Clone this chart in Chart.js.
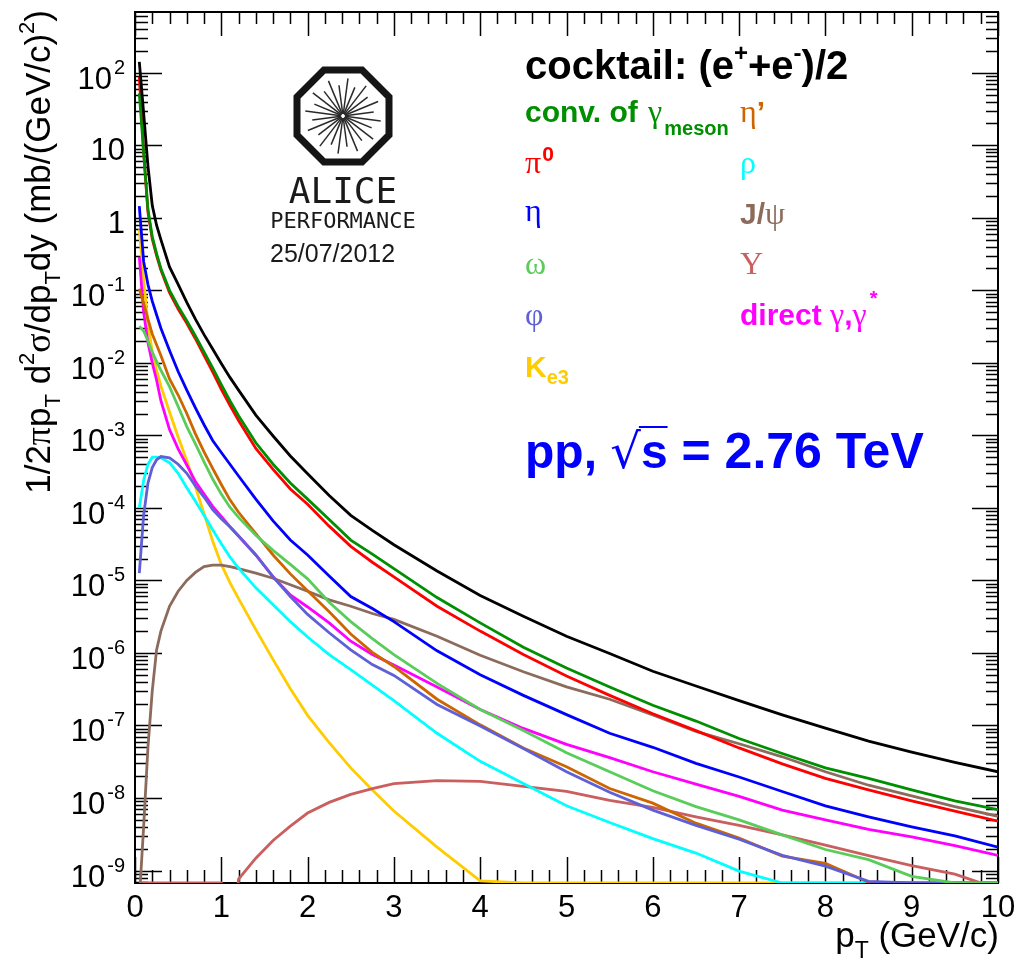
<!DOCTYPE html>
<html>
<head>
<meta charset="utf-8">
<title>cocktail pp 2.76 TeV</title>
<script src="https://cdn.jsdelivr.net/npm/chart.js@4.4.1/dist/chart.umd.min.js"></script>
<style>
  html, body { margin: 0; padding: 0; background: #fff; }
</style>
</head>
<body>
<canvas id="cocktail" width="1020" height="962"></canvas>
<script>
// pT bin centres (GeV/c)
const PT = [0.05, 0.1, 0.15, 0.2, 0.25, 0.3, 0.4, 0.5, 0.6, 0.7, 0.8, 0.9, 1.0, 1.1, 1.2,
            1.4, 1.6, 1.8, 2.0, 2.25, 2.5, 2.75, 3.0, 3.5, 4.0, 4.5, 5.0, 5.5, 6.0, 6.5,
            7.0, 7.5, 8.0, 8.5, 9.0, 9.5, 10.0];

// 1/2pi pT d2sigma/dpT dy  in mb/(GeV/c)^2, one list per source (0 = empty bin)
const SUM_EE = [141, 28, 5.2, 1.48, 0.79, 0.50, 0.21, 0.121, 0.068, 0.040, 0.0245, 0.0155, 0.0098, 0.0063, 0.0042,
  0.0019, 9.8e-4, 5.2e-4, 2.95e-4, 1.48e-4, 7.9e-5, 4.9e-5, 3.1e-5, 1.35e-5, 6.2e-6, 3.2e-6, 1.7e-6, 9.8e-7,
  5.6e-7, 3.5e-7, 2.2e-7, 1.4e-7, 9.2e-8, 6.1e-8, 4.3e-8, 3.1e-8, 2.3e-8];
const CONV_GAMMA = [52, 8.0, 1.3, 0.55, 0.32, 0.20, 0.100, 0.060, 0.038, 0.0234, 0.0141, 0.0085, 0.0050, 0.0030, 0.00186,
  7.9e-4, 4.0e-4, 2.2e-4, 1.32e-4, 6.9e-5, 3.6e-5, 2.3e-5, 1.45e-5, 5.8e-6, 2.6e-6, 1.2e-6, 6.2e-7, 3.4e-7,
  1.9e-7, 1.15e-7, 6.6e-8, 4.1e-8, 2.6e-8, 1.86e-8, 1.29e-8, 9.1e-9, 6.9e-9];
const PI0 = [88, 8.2, 1.2, 0.51, 0.30, 0.19, 0.093, 0.055, 0.035, 0.0215, 0.0127, 0.0075, 0.0043, 0.0026, 0.0016,
  6.6e-4, 3.4e-4, 1.82e-4, 1.12e-4, 5.6e-5, 2.95e-5, 1.78e-5, 1.12e-5, 4.4e-6, 2.0e-6, 9.5e-7, 4.8e-7, 2.6e-7,
  1.45e-7, 8.5e-8, 4.9e-8, 2.95e-8, 1.86e-8, 1.29e-8, 9.1e-9, 6.6e-9, 4.8e-9];
const ETA = [1.45, 0.25, 0.12, 0.071, 0.046, 0.030, 0.0148, 0.0076, 0.0042, 0.0024, 0.0014, 8.5e-4, 5.8e-4, 4.0e-4, 2.75e-4,
  1.32e-4, 6.6e-5, 3.6e-5, 2.24e-5, 1.15e-5, 6.0e-6, 4.1e-6, 2.7e-6, 1.07e-6, 5.0e-7, 2.6e-7, 1.41e-7, 7.8e-8,
  5.0e-8, 3.0e-8, 1.95e-8, 1.23e-8, 7.8e-9, 5.5e-9, 4.0e-9, 3.0e-9, 2.1e-9];
const OMEGA = [0.032, 0.0275, 0.020, 0.014, 0.0105, 0.0079, 0.0047, 0.0025, 0.00132, 7.6e-4, 4.3e-4, 2.5e-4, 1.55e-4, 1.02e-4, 7.4e-5,
  4.2e-5, 2.6e-5, 1.66e-5, 1.05e-5, 5.0e-6, 2.7e-6, 1.58e-6, 9.5e-7, 3.8e-7, 1.66e-7, 8.5e-8, 4.2e-8, 2.3e-8,
  1.26e-8, 7.6e-9, 5.0e-9, 3.1e-9, 1.95e-9, 1.41e-9, 8.3e-10, 0, 0];
const PHI = [1.26e-5, 7.9e-5, 2.2e-4, 3.6e-4, 4.6e-4, 5.1e-4, 4.9e-4, 4.0e-4, 3.0e-4, 2.0e-4, 1.41e-4, 9.5e-5, 7.1e-5, 5.5e-5, 4.1e-5,
  2.24e-5, 1.12e-5, 6.0e-6, 3.4e-6, 1.9e-6, 1.10e-6, 6.9e-7, 4.9e-7, 1.95e-7, 9.8e-8, 4.8e-8, 2.3e-8, 1.2e-8,
  6.8e-9, 4.2e-9, 2.7e-9, 1.62e-9, 1.15e-9, 7.1e-10, 0, 0, 0];
const ETA_PRIME = [0.105, 0.066, 0.040, 0.025, 0.0178, 0.0126, 0.0060, 0.0036, 0.0020, 0.00105, 5.9e-4, 3.5e-4, 2.1e-4, 1.29e-4, 8.7e-5,
  4.4e-5, 2.24e-5, 1.23e-5, 7.2e-6, 3.7e-6, 1.82e-6, 1.02e-6, 6.5e-7, 2.3e-7, 1.02e-7, 4.9e-8, 2.7e-8, 1.35e-8,
  8.5e-9, 4.5e-9, 2.8e-9, 1.58e-9, 1.26e-9, 6.9e-10, 0, 0, 0];
const RHO = [1.0e-4, 2.4e-4, 4.0e-4, 5.0e-4, 5.0e-4, 4.9e-4, 4.2e-4, 3.0e-4, 1.9e-4, 1.23e-4, 7.9e-5, 5.0e-5, 3.2e-5, 2.1e-5, 1.48e-5,
  7.9e-6, 4.6e-6, 2.7e-6, 1.66e-6, 9.5e-7, 5.9e-7, 3.6e-7, 2.2e-7, 7.8e-8, 3.2e-8, 1.58e-8, 7.8e-9, 4.6e-9,
  2.75e-9, 1.74e-9, 9.8e-10, 0, 0, 0, 0, 0, 0];
const JPSI = [4e-10, 4e-9, 5e-8, 3.0e-7, 1.1e-6, 2.0e-6, 4.4e-6, 7.1e-6, 1.0e-5, 1.29e-5, 1.55e-5, 1.62e-5, 1.62e-5, 1.55e-5, 1.45e-5,
  1.26e-5, 1.07e-5, 8.7e-6, 7.1e-6, 5.4e-6, 4.4e-6, 3.5e-6, 2.9e-6, 1.7e-6, 9.3e-7, 5.5e-7, 3.4e-7, 2.3e-7,
  1.4e-7, 8.3e-8, 5.6e-8, 3.7e-8, 2.3e-8, 1.5e-8, 1.07e-8, 7.6e-9, 5.6e-9];
const UPSILON = [0, 0, 0, 0, 0, 0, 0, 0, 0, 0, 0, 0, 0, 3e-11, 7.6e-10,
  1.48e-9, 2.6e-9, 4.1e-9, 6.2e-9, 8.7e-9, 1.12e-8, 1.35e-8, 1.58e-8, 1.74e-8, 1.70e-8, 1.45e-8, 1.23e-8, 9.3e-9,
  7.4e-9, 5.5e-9, 4.2e-9, 3.1e-9, 2.24e-9, 1.6e-9, 1.17e-9, 8.9e-10, 5.6e-10];
const DIRECT_GAMMA = [0.29, 0.050, 0.019, 0.010, 0.0058, 0.0030, 0.0012, 6.5e-4, 3.9e-4, 2.3e-4, 1.55e-4, 1.05e-4, 7.6e-5, 5.5e-5, 4.1e-5,
  2.24e-5, 1.12e-5, 6.3e-6, 4.3e-6, 2.6e-6, 1.45e-6, 9.5e-7, 6.8e-7, 3.4e-7, 1.66e-7, 9.1e-8, 5.5e-8, 3.6e-8,
  2.3e-8, 1.55e-8, 1.05e-8, 6.8e-9, 5.0e-9, 3.7e-9, 2.9e-9, 2.2e-9, 1.62e-9];
const KE3 = [0.69, 0.14, 0.035, 0.014, 0.0079, 0.0048, 0.0021, 9.5e-4, 4.5e-4, 1.95e-4, 8.3e-5, 3.5e-5, 1.66e-5, 9.3e-6, 5.6e-6,
  2.1e-6, 8.1e-7, 3.2e-7, 1.38e-7, 5.8e-8, 2.6e-8, 1.29e-8, 6.6e-9, 2.1e-9, 7.2e-10, 0, 0, 0,
  0, 0, 0, 0, 0, 0, 0, 0, 0];

// axis ranges
const X_RANGE = [0, 10];
const Y_RANGE = [6.73e-10, 687];

const SANS = '"Liberation Sans", Arial, Helvetica, sans-serif';
const SERIF = '"Liberation Serif", "Times New Roman", serif';
const MONO = '"DejaVu Sans Mono", monospace';
const font = (size, fam, bold) => (bold ? 'bold ' : '') + size + 'px ' + fam;

const COL = {
  sum: '#000000', conv: '#008f00', pi0: '#ff0000', eta: '#0000ff', omega: '#5acc5a',
  phi: '#5f5fd7', etap: '#cc6600', rho: '#00ffff', jpsi: '#8c6b5c', ups: '#c95f5f',
  dir: '#ff00ff', ke3: '#ffcc00'
};

// empty bins sit on the lower frame edge, like ROOT does on a log axis
function toPoints(values) {
  return PT.map((x, i) => ({ x, y: values[i] > 0 ? values[i] : Y_RANGE[0] }));
}

const SERIES = [
  ['cocktail', SUM_EE, COL.sum],
  ['conv. of gamma', CONV_GAMMA, COL.conv],
  ['pi0', PI0, COL.pi0],
  ['eta', ETA, COL.eta],
  ['omega', OMEGA, COL.omega],
  ['phi', PHI, COL.phi],
  ["eta'", ETA_PRIME, COL.etap],
  ['rho', RHO, COL.rho],
  ['J/psi', JPSI, COL.jpsi],
  ['Upsilon', UPSILON, COL.ups],
  ['direct gamma', DIRECT_GAMMA, COL.dir],
  ['Ke3', KE3, COL.ke3]
];

// draws a run of text pieces (sub/superscripts, mixed fonts) on one baseline
function drawRich(ctx, parts, x, y, align) {
  let total = 0;
  for (const p of parts) {
    ctx.font = p.font;
    p.w = ctx.measureText(p.text).width + (p.gap || 0);
    total += p.w;
  }
  let cx = align === 'right' ? x - total : align === 'center' ? x - total / 2 : x;
  ctx.textAlign = 'left';
  ctx.textBaseline = 'alphabetic';
  const spans = [];
  for (const p of parts) {
    ctx.font = p.font;
    ctx.fillStyle = p.color || '#000';
    const sx = cx + (p.gap || 0);
    ctx.fillText(p.text, sx, y + (p.dy || 0));
    spans.push([sx, sx + p.w - (p.gap || 0)]);
    cx += p.w;
  }
  return spans;
}

function drawLogo(ctx) {
  const cx = 343, cy = 116;
  ctx.save();
  ctx.strokeStyle = '#151515';
  ctx.lineWidth = 7;
  ctx.lineJoin = 'miter';
  const r = 46 / Math.cos(Math.PI / 8);
  ctx.beginPath();
  for (let k = 0; k < 8; k++) {
    const a = Math.PI / 8 + k * Math.PI / 4;
    const px = cx + r * Math.cos(a), py = cy + r * Math.sin(a);
    if (k) ctx.lineTo(px, py); else ctx.moveTo(px, py);
  }
  ctx.closePath();
  ctx.stroke();
  ctx.lineWidth = 1.5;
  ctx.strokeStyle = '#2a2a2a';
  for (let k = 0; k < 24; k++) {
    const a = k * Math.PI / 12 + Math.PI / 24;
    const len = k % 2 ? 31 : 38;
    ctx.beginPath();
    ctx.moveTo(cx + 2 * Math.cos(a), cy + 2 * Math.sin(a));
    ctx.lineTo(cx + len * Math.cos(a), cy + len * Math.sin(a));
    ctx.stroke();
  }
  ctx.fillStyle = '#1a1a1a';
  ctx.textAlign = 'center';
  ctx.font = font(36, MONO);
  ctx.fillText('ALICE', cx, 203);
  ctx.font = font(22, MONO);
  ctx.fillText('PERFORMANCE', cx, 228);
  ctx.textAlign = 'left';
  ctx.font = font(25, SANS);
  ctx.fillText('25/07/2012', 270, 262);
  ctx.restore();
}

// ROOT-style frame: box plus inward ticks on all four sides
const rootFrame = {
  id: 'rootFrame',
  beforeDatasetsDraw(chart) {
    const { ctx, chartArea: a, scales: { x, y } } = chart;
    ctx.save();
    ctx.strokeStyle = '#000';
    ctx.lineWidth = 1.5;
    ctx.beginPath();
    for (let i = 0; i <= 50; i++) {
      const px = Math.round(x.getPixelForValue(i * 0.2)) + 0.5;
      const len = i % 5 === 0 ? 26 : 13;
      ctx.moveTo(px, a.bottom); ctx.lineTo(px, a.bottom - len);
      ctx.moveTo(px, a.top); ctx.lineTo(px, a.top + (i % 5 === 0 ? 24 : 12));
    }
    for (let e = -10; e <= 2; e++) {
      for (let m = 1; m <= 9; m++) {
        const v = m * Math.pow(10, e);
        if (v < Y_RANGE[0] || v > Y_RANGE[1]) continue;
        const py = Math.round(y.getPixelForValue(v)) + 0.5;
        const len = m === 1 ? 27 : 13;
        ctx.moveTo(a.left, py); ctx.lineTo(a.left + len, py);
        ctx.moveTo(a.right, py); ctx.lineTo(a.right - (m === 1 ? 26 : 12), py);
      }
    }
    ctx.stroke();
    ctx.lineWidth = 2;
    ctx.strokeRect(a.left, a.top, a.right - a.left, a.bottom - a.top);
    ctx.restore();
  },
  afterDraw(chart) {
    const { ctx, scales: { x, y } } = chart;
    ctx.save();
    // x tick labels
    ctx.fillStyle = '#000';
    ctx.font = font(31, SANS);
    ctx.textAlign = 'center';
    for (let v = 0; v <= 10; v++) ctx.fillText(String(v), x.getPixelForValue(v), 917);
    // y tick labels, powers of ten
    for (let e = -9; e <= 2; e++) {
      const py = y.getPixelForValue(Math.pow(10, e));
      if (e === 1 || e === 0) {
        drawRich(ctx, [{ text: e ? '10' : '1', font: font(31, SANS) }], 125, py + 15, 'right');
      } else {
        drawRich(ctx, [
          { text: '10', font: font(31, SANS) },
          { text: e < 0 ? '-' + (-e) : String(e), font: font(20, SANS), dy: -15, gap: 2 }
        ], 125, py + 16, 'right');
      }
    }
    // axis titles
    drawRich(ctx, [
      { text: 'p', font: font(35, SANS) },
      { text: 'T', font: font(23, SANS), dy: 11 },
      { text: ' (GeV/c)', font: font(35, SANS) }
    ], 999, 947, 'right');

    ctx.save();
    ctx.translate(50, 10);
    ctx.rotate(-Math.PI / 2);
    drawRich(ctx, [
      { text: '1/2', font: font(35, SANS) },
      { text: 'π', font: font(36, SERIF) },
      { text: 'p', font: font(35, SANS) },
      { text: 'T', font: font(22, SANS), dy: 10 },
      { text: ' d', font: font(35, SANS) },
      { text: '2', font: font(22, SANS), dy: -16 },
      { text: 'σ', font: font(36, SERIF) },
      { text: '/dp', font: font(35, SANS) },
      { text: 'T', font: font(22, SANS), dy: 10 },
      { text: 'dy (mb/(GeV/c)', font: font(35, SANS) },
      { text: '2', font: font(22, SANS), dy: -16 },
      { text: ')', font: font(35, SANS) }
    ], 0, 0, 'right');
    ctx.restore();

    drawLogo(ctx);

    // legend block
    const B30 = font(30, SANS, true), B20 = font(20, SANS, true), G32 = font(32, SERIF);
    drawRich(ctx, [
      { text: 'cocktail: (e', font: font(40, SANS, true) },
      { text: '+', font: font(24, SANS, true), dy: -18 },
      { text: '+e', font: font(40, SANS, true) },
      { text: '-', font: font(24, SANS, true), dy: -18 },
      { text: ')/2', font: font(40, SANS, true) }
    ], 525, 79);
    drawRich(ctx, [
      { text: 'conv. of ', font: B30, color: COL.conv },
      { text: 'γ', font: G32, color: COL.conv, gap: 2 },
      { text: 'meson', font: B20, color: COL.conv, dy: 13, gap: 2 }
    ], 525, 122);
    drawRich(ctx, [
      { text: 'η', font: G32, color: COL.etap },
      { text: '’', font: B30, color: COL.etap }
    ], 740, 122);
    drawRich(ctx, [
      { text: 'π', font: G32, color: COL.pi0 },
      { text: '0', font: font(21, SANS, true), color: COL.pi0, dy: -12, gap: 1 }
    ], 525, 173);
    drawRich(ctx, [{ text: 'ρ', font: G32, color: COL.rho }], 740, 173);
    drawRich(ctx, [{ text: 'η', font: G32, color: COL.eta }], 525, 221);
    drawRich(ctx, [
      { text: 'J/', font: B30, color: COL.jpsi },
      { text: 'ψ', font: G32, color: COL.jpsi }
    ], 740, 224);
    drawRich(ctx, [{ text: 'ω', font: G32, color: COL.omega }], 525, 274);
    drawRich(ctx, [{ text: 'Υ', font: G32, color: COL.ups }], 740, 274);
    drawRich(ctx, [{ text: 'φ', font: G32, color: COL.phi }], 525, 325);
    drawRich(ctx, [
      { text: 'direct ', font: B30, color: COL.dir },
      { text: 'γ', font: G32, color: COL.dir },
      { text: ',', font: B30, color: COL.dir },
      { text: 'γ', font: G32, color: COL.dir },
      { text: '*', font: B20, color: COL.dir, dy: -20, gap: 3 }
    ], 740, 325);
    drawRich(ctx, [
      { text: 'K', font: B30, color: COL.ke3 },
      { text: 'e3', font: B20, color: COL.ke3, dy: 7 }
    ], 525, 377);

    // pp, sqrt(s) = 2.76 TeV
    const B48 = font(48, SANS, true), B50 = font(50, SANS, true);
    const spans = drawRich(ctx, [
      { text: 'pp, ', font: B48, color: '#0000ff' },
      { text: '√', font: '48px "DejaVu Sans", sans-serif', color: '#0000ff' },
      { text: 's', font: B48, color: '#0000ff' },
      { text: ' = 2.76 TeV', font: B50, color: '#0000ff' }
    ], 525, 468);
    ctx.strokeStyle = '#0000ff';
    ctx.lineWidth = 2;
    ctx.beginPath();
    ctx.moveTo(spans[1][1] - 2, 427);
    ctx.lineTo(spans[2][1], 427);
    ctx.stroke();
    ctx.restore();
  }
};

new Chart(document.getElementById('cocktail').getContext('2d'), {
  type: 'line',
  data: {
    datasets: SERIES.map(([label, values, color]) => ({
      label,
      data: toPoints(values),
      borderColor: color,
      backgroundColor: color,
      borderWidth: 2.8,
      pointRadius: 0,
      tension: 0,
      fill: false
    }))
  },
  options: {
    responsive: false,
    animation: false,
    layout: { padding: { left: 135, top: 12, right: 22, bottom: 79 } },
    scales: {
      x: { type: 'linear', min: X_RANGE[0], max: X_RANGE[1], display: false },
      y: { type: 'logarithmic', min: Y_RANGE[0], max: Y_RANGE[1], display: false }
    },
    plugins: { legend: { display: false }, tooltip: { enabled: false } }
  },
  plugins: [rootFrame]
});
</script>
</body>
</html>
